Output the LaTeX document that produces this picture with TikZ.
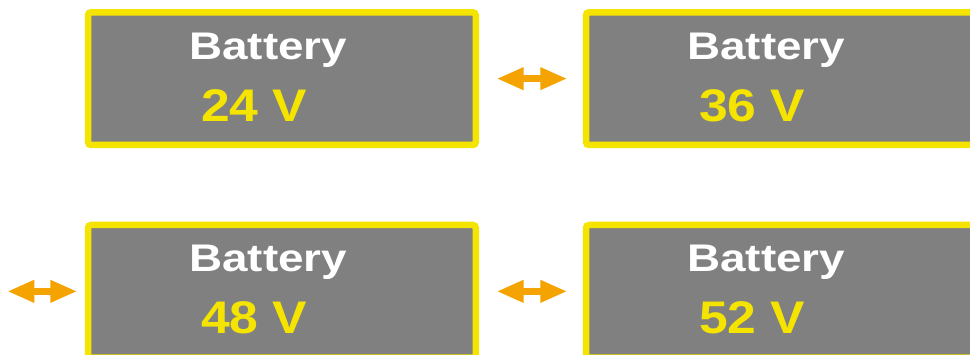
\documentclass[tikz,border=0pt]{standalone}
\usepackage{fontspec}
\newfontfamily\namefont[FakeStretch=1.19]{Liberation Sans}
\newfontfamily\voltfont[FakeStretch=1.13]{Liberation Sans}
\usetikzlibrary{arrows.meta}
\definecolor{boxgray}{RGB}{128,128,128}
\definecolor{boxyellow}{RGB}{245,228,0}
\definecolor{arroworange}{RGB}{245,163,0}

\begin{document}
\begin{tikzpicture}[x=1pt,y=-1pt]
	\clip (0,0) rectangle (970,355);
	\useasboundingbox (0,0) rectangle (970,355);

	\begin{scope}[every node/.style={rectangle, rounded corners=3pt, draw=boxyellow, fill=boxgray,
	              line width=6.5pt, inner sep=0pt, minimum width=387.8pt, minimum height=132.7pt}]
		\node (b24) at (281.9,78.65) {};
		\node (b36) at (779.9,78.65) {};
		\node (b48) at (281.9,291.35) {};
		\node (b52) at (779.9,291.35) {};
	\end{scope}

	\begin{scope}[every node/.style={anchor=base west, inner sep=0pt}]
		\node[text=white, font=\namefont\bfseries\fontsize{38.5}{40}\selectfont] (n24) at (189,59.3) {Battery};
		\node[text=white, font=\namefont\bfseries\fontsize{38.5}{40}\selectfont] (n36) at (687,59.3) {Battery};
		\node[text=white, font=\namefont\bfseries\fontsize{38.5}{40}\selectfont] (n48) at (189,272) {Battery};
		\node[text=white, font=\namefont\bfseries\fontsize{38.5}{40}\selectfont] (n52) at (687,272) {Battery};
		\node[text=boxyellow, font=\voltfont\bfseries\fontsize{45.7}{48}\selectfont] (v24) at (201,121.2) {24 V};
		\node[text=boxyellow, font=\voltfont\bfseries\fontsize{45.7}{48}\selectfont] (v36) at (699,121.2) {36 V};
		\node[text=boxyellow, font=\voltfont\bfseries\fontsize{45.7}{48}\selectfont] (v48) at (201,333.9) {48 V};
		\node[text=boxyellow, font=\voltfont\bfseries\fontsize{45.7}{48}\selectfont] (v52) at (699,333.9) {52 V};
	\end{scope}

	\coordinate (l48) at (7.3,291.35);

	\begin{scope}[>={Triangle[length=27pt,width=21pt]},
	              every path/.style={draw=arroworange, line width=7.5pt}]
		\draw[<->, shorten <=17.6pt, shorten >=15.5pt] (b24.east) -- (b36.west);
		\draw[<->, shorten <=17.6pt, shorten >=15.5pt] (b48.east) -- (b52.west);
		\draw[<->, shorten >=7.5pt] (l48) -- (b48.west);
	\end{scope}
\end{tikzpicture}
\end{document}
